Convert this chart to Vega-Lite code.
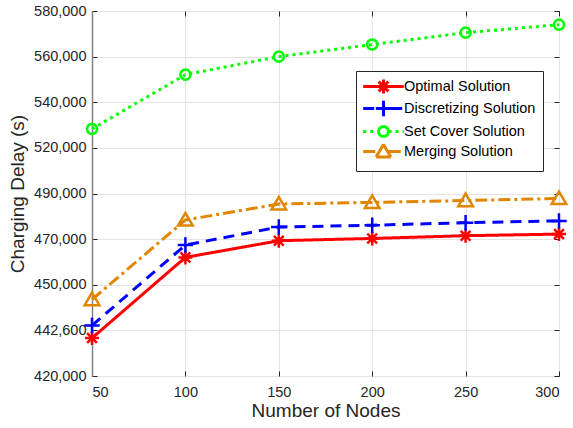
{
  "$schema": "https://vega.github.io/schema/vega-lite/v6.json",
  "width": 467,
  "height": 365,
  "autosize": {"type": "none"},
  "padding": {"left": 92, "top": 11, "right": 14, "bottom": 52},
  "background": "white",
  "config": {
    "font": "Liberation Sans",
    "view": {"stroke": "#262626", "strokeWidth": 1},
    "axis": {
      "labelFont": "Liberation Sans",
      "titleFont": "Liberation Sans",
      "labelFontSize": 14.5,
      "titleFontSize": 19,
      "titleFontWeight": "normal",
      "labelColor": "#262626",
      "titleColor": "#262626",
      "gridColor": "#e3e3e3",
      "gridWidth": 1,
      "tickColor": "#262626",
      "tickSize": -5,
      "domain": false
    }
  },
  "resolve": {"axis": {"x": "independent", "y": "independent"}},
  "data": {
    "values": [
      {"series": "Optimal Solution", "nodes": 50, "delay": 438800},
      {"series": "Optimal Solution", "nodes": 100, "delay": 462000},
      {"series": "Optimal Solution", "nodes": 150, "delay": 469300},
      {"series": "Optimal Solution", "nodes": 200, "delay": 470300},
      {"series": "Optimal Solution", "nodes": 250, "delay": 471500},
      {"series": "Optimal Solution", "nodes": 300, "delay": 472200},
      {"series": "Discretizing Solution", "nodes": 50, "delay": 443400},
      {"series": "Discretizing Solution", "nodes": 100, "delay": 467400},
      {"series": "Discretizing Solution", "nodes": 150, "delay": 475300},
      {"series": "Discretizing Solution", "nodes": 200, "delay": 476100},
      {"series": "Discretizing Solution", "nodes": 250, "delay": 477200},
      {"series": "Discretizing Solution", "nodes": 300, "delay": 478000},
      {"series": "Set Cover Solution", "nodes": 50, "delay": 528300},
      {"series": "Set Cover Solution", "nodes": 100, "delay": 552100},
      {"series": "Set Cover Solution", "nodes": 150, "delay": 560000},
      {"series": "Set Cover Solution", "nodes": 200, "delay": 565300},
      {"series": "Set Cover Solution", "nodes": 250, "delay": 570500},
      {"series": "Set Cover Solution", "nodes": 300, "delay": 574000},
      {"series": "Merging Solution", "nodes": 50, "delay": 447600},
      {"series": "Merging Solution", "nodes": 100, "delay": 478400},
      {"series": "Merging Solution", "nodes": 150, "delay": 485400},
      {"series": "Merging Solution", "nodes": 200, "delay": 486100},
      {"series": "Merging Solution", "nodes": 250, "delay": 486900},
      {"series": "Merging Solution", "nodes": 300, "delay": 487800}
    ]
  },
  "layer": [
    {
      "mark": {"type": "line", "strokeWidth": 3},
      "encoding": {
        "x": {
          "field": "nodes", "type": "quantitative",
          "scale": {"domain": [50, 300], "nice": false, "zero": false},
          "axis": {"values": [50, 100, 150, 200, 250, 300], "title": "Number of Nodes", "labelPadding": 14, "titlePadding": 3}
        },
        "y": {
          "field": "delay", "type": "quantitative",
          "scale": {
            "domain": [420000, 442600, 450000, 470000, 490000, 520000, 540000, 560000, 580000],
            "range": [365, 319.375, 273.75, 228.125, 182.5, 136.875, 91.25, 45.625, 0],
            "nice": false, "zero": false
          },
          "axis": {
            "values": [420000, 442600, 450000, 470000, 490000, 520000, 540000, 560000, 580000],
            "format": ",d",
            "title": "Charging Delay (s)",
            "labelPadding": 11,
            "titlePadding": 6,
            "domain": true,
            "domainColor": "#808080",
            "domainWidth": 1.5
          }
        },
        "stroke": {
          "field": "series", "type": "nominal",
          "scale": {
            "domain": ["Optimal Solution", "Discretizing Solution", "Set Cover Solution", "Merging Solution"],
            "range": ["#ff0000", "#0000ff", "#00ff00", "#e08600"]
          },
          "legend": {
            "title": null, "orient": "none", "legendX": 264, "legendY": 60, "direction": "vertical", "columns": 1,
            "symbolType": "M-2.9,0H2.9", "symbolSize": 196, "symbolStrokeWidth": 3,
            "symbolOffset": 12, "labelOffset": 12, "labelFontSize": 14.5, "labelColor": "#000000",
            "labelFont": "Liberation Sans", "labelLimit": 300,
            "rowPadding": -9.8, "padding": 7, "strokeColor": "#262626", "fillColor": "white",
            "encode": {
              "symbols": {
                "update": {
                  "fill": {"value": "transparent"},
                  "shape": {"signal": "datum.value === 'Optimal Solution' ? 'M-2.9,0H2.9M0,0H1M0,0H-1M0,0V1M0,0V-1M0,0L0.7,0.7M0,0L-0.7,-0.7M0,0L0.7,-0.7M0,0L-0.7,0.7' : datum.value === 'Discretizing Solution' ? 'M-2.9,0H-1.1M1.1,0H2.9M0,0H1.1M0,0H-1.1M0,0V1.1M0,0V-1.1' : datum.value === 'Set Cover Solution' ? 'M-2.9,0H-0.72M0.72,0H2.9M0.72,0L0.665,0.276M0.665,0.276L0.509,0.509M0.509,0.509L0.276,0.665M0.276,0.665L0,0.72M0,0.72L-0.276,0.665M-0.276,0.665L-0.509,0.509M-0.509,0.509L-0.665,0.276M-0.665,0.276L-0.72,0M-0.72,0L-0.665,-0.276M-0.665,-0.276L-0.509,-0.509M-0.509,-0.509L-0.276,-0.665M-0.276,-0.665L0,-0.72M0,-0.72L0.276,-0.665M0.276,-0.665L0.509,-0.509M0.509,-0.509L0.665,-0.276M0.665,-0.276L0.72,0' : 'M-2.9,0H-0.75M0.75,0H2.9M0,-1L0.525,-0.1M0.525,-0.1L1.05,0.8M1.05,0.8L0,0.8M0,0.8L-1.05,0.8M-1.05,0.8L-0.525,-0.1M-0.525,-0.1L0,-1'"}
                }
              }
            }
          }
        },
        "strokeDash": {
          "field": "series", "type": "nominal",
          "scale": {
            "domain": ["Optimal Solution", "Discretizing Solution", "Set Cover Solution", "Merging Solution"],
            "range": [[1, 0], [11, 7], [3, 4], [12, 4, 3, 4]]
          },
          "legend": {
            "title": null, "orient": "none", "legendX": 264, "legendY": 60, "direction": "vertical", "columns": 1,
            "symbolType": "M-2.9,0H2.9", "symbolSize": 196, "symbolStrokeWidth": 3,
            "symbolOffset": 12, "labelOffset": 12, "labelFontSize": 14.5, "labelColor": "#000000",
            "labelFont": "Liberation Sans", "labelLimit": 300,
            "rowPadding": -9.8, "padding": 7, "strokeColor": "#262626", "fillColor": "white"
          }
        }
      }
    },
    {
      "mark": {"type": "point", "filled": false, "strokeWidth": 2.5, "size": 196, "opacity": 1},
      "encoding": {
        "x": {
          "field": "nodes", "type": "quantitative",
          "axis": {"orient": "top", "values": [50, 100, 150, 200, 250, 300], "labels": false, "title": null, "grid": false, "tickSize": -5}
        },
        "y": {
          "field": "delay", "type": "quantitative",
          "axis": {"orient": "right", "values": [420000, 442600, 450000, 470000, 490000, 520000, 540000, 560000, 580000], "labels": false, "title": null, "grid": false, "tickSize": -5}
        },
        "color": {
          "field": "series", "type": "nominal", "sort": null,
          "scale": {"range": ["#ff0000", "#0000ff", "#00ff00", "#e08600"]},
          "legend": null
        },
        "shape": {
          "field": "series", "type": "nominal", "sort": null,
          "scale": {
            "range": [
              "M-1,0H1M0,-1V1M-0.7,-0.7L0.7,0.7M-0.7,0.7L0.7,-0.7",
              "M-1.1,0H1.1M0,-1.1V1.1",
              "M0.72,0L0.665,0.276L0.509,0.509L0.276,0.665L0,0.72L-0.276,0.665L-0.509,0.509L-0.665,0.276L-0.72,0L-0.665,-0.276L-0.509,-0.509L-0.276,-0.665L0,-0.72L0.276,-0.665L0.509,-0.509L0.665,-0.276Z",
              "M0,-1L1.05,0.8L-1.05,0.8Z"
            ]
          },
          "legend": null
        }
      }
    }
  ]
}
